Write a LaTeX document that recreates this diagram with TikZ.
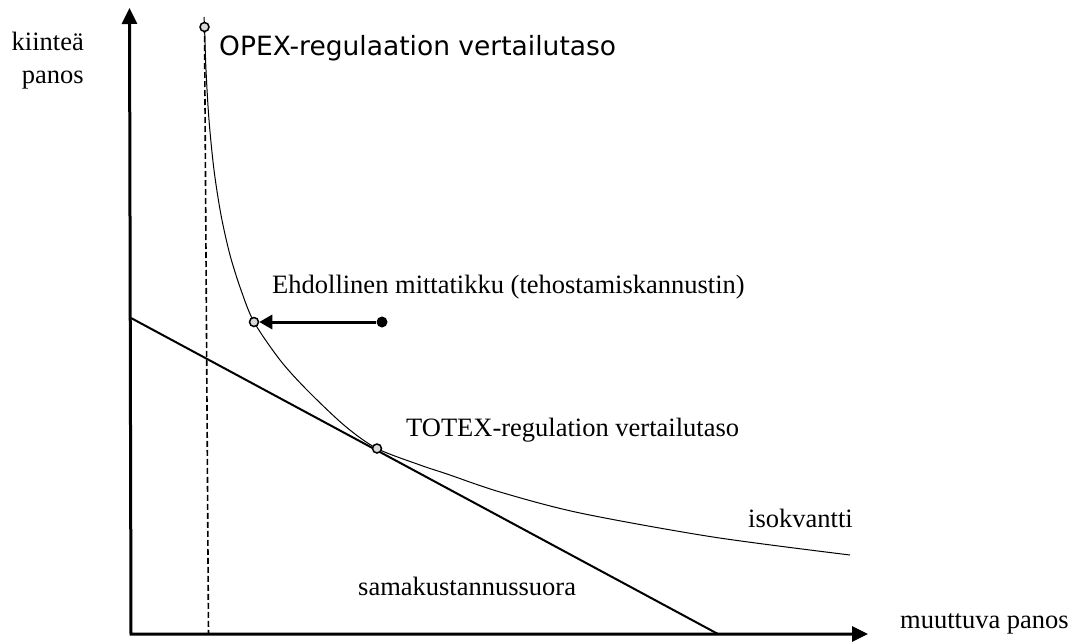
\documentclass[tikz,border=0pt]{standalone}
\usepackage{fontspec}
\setmainfont{Liberation Serif}
\newfontfamily\labelsans{DejaVu Sans}
\usetikzlibrary{arrows.meta}
\begin{document}
\begin{tikzpicture}[x=1pt,y=-1pt,
  axisline/.style={line width=3pt,{Triangle[length=16pt,width=15pt]}-{Triangle[length=16pt,width=15pt]}},
  budget/.style={line width=2pt},
  iso/.style={line width=1pt},
  guide/.style={line width=1.6pt,dash pattern=on 6pt off 3pt},
  opendot/.style={circle,draw=black,fill=black!15,line width=1.5pt,minimum size=9pt,inner sep=0pt},
  fulldot/.style={circle,fill=black,minimum size=11pt,inner sep=0pt},
  shiftarrow/.style={line width=3pt,-{Triangle[length=13pt,width=14pt]}},
  lbl/.style={inner sep=0pt,font=\fontsize{26.5}{32}\selectfont},
  slbl/.style={inner sep=0pt,font=\labelsans\fontsize{26.5}{32}\selectfont}]
\useasboundingbox (0,0) rectangle (1080,643);
% coordinates
\coordinate (ytop) at (129.5,8);
\coordinate (O) at (131,634);
\coordinate (xend) at (868,634);
\coordinate (b1) at (131,318);
\coordinate (b2) at (718,634);
\coordinate (popex) at (204.5,27);
\coordinate (pehd) at (254,322);
\coordinate (ptotex) at (377,448.5);
\coordinate (pdot) at (382,322);
\coordinate (dbot) at (208.5,634);
% isoquant
\draw[iso] plot[smooth] coordinates {(204,17) (204.5,27) (206,70) (209,120) (214,170) (221,215) (230,255) (241,290) (254,322) (280,360) (307,390) (345,426) (377,448.5) (420,465) (447,474) (500,492) (580,513) (713,537) (850,555)};
% lines
\draw[budget] (b1) -- (b2);
\draw[guide] (popex) -- (dbot);
\draw[axisline] (ytop) -- (O) -- (xend);
% points
\node[opendot] (opex) at (popex) {};
\node[opendot] (ehd) at (pehd) {};
\node[opendot] (totex) at (ptotex) {};
\node[fulldot] (dot) at (pdot) {};
\draw[shiftarrow] (dot) -- (ehd);
% labels
\node[lbl,anchor=base east] (l1) at (84,50) {kiinteä};
\node[lbl,anchor=base east] (l2) at (84,83) {panos};
\node[slbl,anchor=base west] (lopex) at (219,55) {OPEX-regulaation vertailutaso};
\node[lbl,anchor=base west] (lehd) at (272,293) {Ehdollinen mittatikku (tehostamiskannustin)};
\node[lbl,anchor=base west] (ltotex) at (406,436) {TOTEX-regulation vertailutaso};
\node[lbl,anchor=base west] (liso) at (748,527) {isokvantti};
\node[lbl,anchor=base west] (lsama) at (358,595) {samakustannussuora};
\node[lbl,anchor=base west] (lmuut) at (900,628) {muuttuva panos};
\end{tikzpicture}
\end{document}
